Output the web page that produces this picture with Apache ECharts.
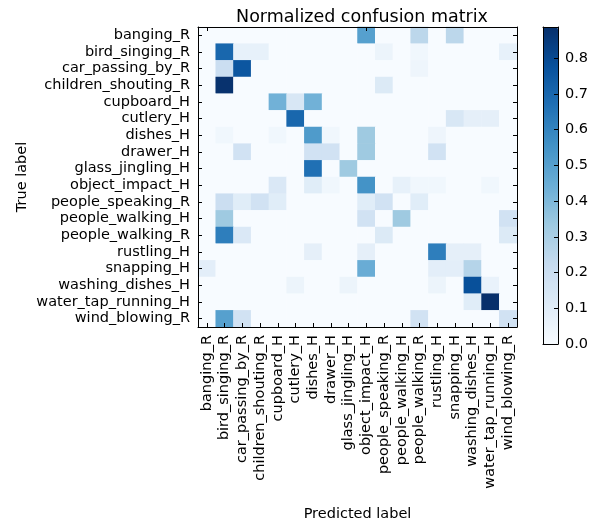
<!DOCTYPE html>
<html><head><meta charset="utf-8">
<script src="https://cdn.jsdelivr.net/npm/echarts@6/dist/echarts.min.js"></script>
<style>html,body{margin:0;padding:0;background:#fff}#c{width:596px;height:527px}</style>
</head><body><div id="c"></div>
<script>
const labels = ['banging_R','bird_singing_R','car_passing_by_R','children_shouting_R','cupboard_H','cutlery_H','dishes_H','drawer_H','glass_jingling_H','object_impact_H','people_speaking_R','people_walking_H','people_walking_R','rustling_H','snapping_H','washing_dishes_H','water_tap_running_H','wind_blowing_R'];
// rows = true label, columns = predicted label
const matrix = [
  [0,0,0,0,0,0,0,0,0,0.50,0,0,0.25,0,0.25,0,0,0],
  [0,0.70,0.07,0.07,0,0,0,0,0,0,0.05,0,0.03,0,0,0,0,0.07],
  [0,0.20,0.76,0,0,0,0,0,0,0,0,0,0.04,0,0,0,0,0],
  [0,0.88,0,0,0,0,0,0,0,0,0.12,0,0,0,0,0,0,0],
  [0,0,0,0,0.43,0.14,0.43,0,0,0,0,0,0,0,0,0,0,0],
  [0,0,0,0,0,0.70,0,0,0,0,0,0,0,0,0.14,0.08,0.08,0],
  [0,0.03,0,0,0.03,0,0.52,0.03,0,0.33,0,0,0,0.04,0,0,0,0],
  [0,0,0.17,0,0,0,0.17,0.17,0,0.33,0,0,0,0.17,0,0,0,0],
  [0,0,0,0,0,0,0.67,0,0.33,0,0,0,0,0,0,0,0,0],
  [0,0,0,0,0.13,0,0.10,0.03,0,0.55,0,0.07,0.03,0.03,0,0,0.03,0],
  [0,0.20,0.10,0.17,0.10,0,0,0,0,0.10,0.17,0,0.10,0,0,0,0,0],
  [0,0.33,0,0,0,0,0,0,0,0.17,0,0.33,0,0,0,0,0,0.17],
  [0,0.62,0.13,0,0,0,0,0,0,0,0.12,0,0,0,0,0,0,0.12],
  [0,0,0,0,0,0,0.08,0,0,0.08,0,0,0,0.62,0.08,0.08,0,0],
  [0.09,0,0,0,0,0,0,0,0,0.45,0,0,0,0.09,0.09,0.27,0,0],
  [0,0,0,0,0,0.05,0,0,0.05,0,0,0,0,0.05,0,0.78,0.06,0],
  [0,0,0,0,0,0,0,0,0,0,0,0,0,0,0,0.10,0.89,0],
  [0,0.50,0.17,0,0,0,0,0,0,0,0,0,0.17,0,0,0,0,0.17]
];
const colorbarTicks = [0,0.1,0.2,0.3,0.4,0.5,0.6,0.7,0.8];
const vmax = 0.887;
const blues = ['#f7fbff','#deebf7','#c6dbef','#9ecae1','#6baed6','#4292c6','#2171b5','#08519c','#08306b'];

const cells = [];
matrix.forEach((row, r) => row.forEach((v, c) => cells.push([c, r, v])));

const F = 'DejaVu Sans';
const FS = 14.5;
const tickIn = {show:true, inside:true, length:4, alignWithLabel:true, lineStyle:{color:'#000', width:1}};
const lineBlack = {show:true, onZero:false, lineStyle:{color:'#000', width:1}};

const chart = echarts.init(document.getElementById('c'), null, {renderer:'canvas'});
chart.setOption({
  animation: false,
  backgroundColor: '#fff',
  title: {text:'Normalized confusion matrix', left: 357, top: 3, textAlign:'center',
    textStyle:{fontFamily:F, fontSize:17.5, fontWeight:'normal', color:'#000'}},
  grid: [
    {left:198, top:27, width:319, height:317},
    {left:543, top:27, width:15, height:317}
  ],
  xAxis: [
    {type:'category', gridIndex:0, data:labels, position:'bottom', boundaryGap:true, z:10,
     axisLine:lineBlack, axisTick:tickIn, splitLine:{show:false},
     axisLabel:{rotate:90, interval:0, margin:8, fontFamily:F, fontSize:FS, color:'#000'},
     name:'Predicted label', nameLocation:'middle', nameGap:180, nameMoveOverlap:false,
     nameTextStyle:{fontFamily:F, fontSize:FS, color:'#000'}},
    {type:'category', gridIndex:0, data:labels, position:'top', boundaryGap:true, z:10,
     axisLine:lineBlack, axisTick:tickIn, axisLabel:{show:false}, splitLine:{show:false}},
    {type:'value', gridIndex:1, position:'top', min:0, max:1, z:10,
     axisLine:lineBlack, axisTick:{show:false}, axisLabel:{show:false}, splitLine:{show:false}},
    {type:'value', gridIndex:1, position:'bottom', min:0, max:1, z:10,
     axisLine:lineBlack, axisTick:{show:false}, axisLabel:{show:false}, splitLine:{show:false}}
  ],
  yAxis: [
    {type:'category', gridIndex:0, data:labels, inverse:true, position:'left', boundaryGap:true, z:10,
     axisLine:lineBlack, axisTick:tickIn, splitLine:{show:false},
     axisLabel:{interval:0, margin:8, fontFamily:F, fontSize:FS, color:'#000'},
     name:'True label', nameLocation:'middle', nameGap:168, nameRotate:90, nameMoveOverlap:false,
     nameTextStyle:{fontFamily:F, fontSize:FS, color:'#000'}},
    {type:'category', gridIndex:0, data:labels, inverse:true, position:'right', boundaryGap:true, z:10,
     axisLine:lineBlack, axisTick:tickIn, axisLabel:{show:false}, splitLine:{show:false}},
    {type:'value', gridIndex:1, position:'right', min:0, max:vmax, interval:0.1, z:10,
     axisLine:lineBlack, splitLine:{show:false},
     axisTick:{show:true, inside:true, length:4, lineStyle:{color:'#000'},
       customValues: colorbarTicks},
     axisLabel:{margin:7, fontFamily:F, fontSize:FS, color:'#000',
       customValues: colorbarTicks, formatter: v => v.toFixed(1)}},
    {type:'value', gridIndex:1, position:'left', min:0, max:vmax, z:10,
     axisLine:lineBlack, axisTick:{show:false}, axisLabel:{show:false}, splitLine:{show:false}}
  ],
  visualMap: {
    type:'continuous', min:0, max:vmax, seriesIndex:0, calculable:false, show:true,
    orient:'vertical', left:543, top:27, itemWidth:15, itemHeight:317, padding:0,
    inRange:{color:blues}, hoverLink:false, z:2
  },
  series: [{
    type:'heatmap', xAxisIndex:0, yAxisIndex:0, data:cells,
    itemStyle:{borderWidth:0}, emphasis:{disabled:true}, progressive:0
  }]
});
</script>
</body></html>
